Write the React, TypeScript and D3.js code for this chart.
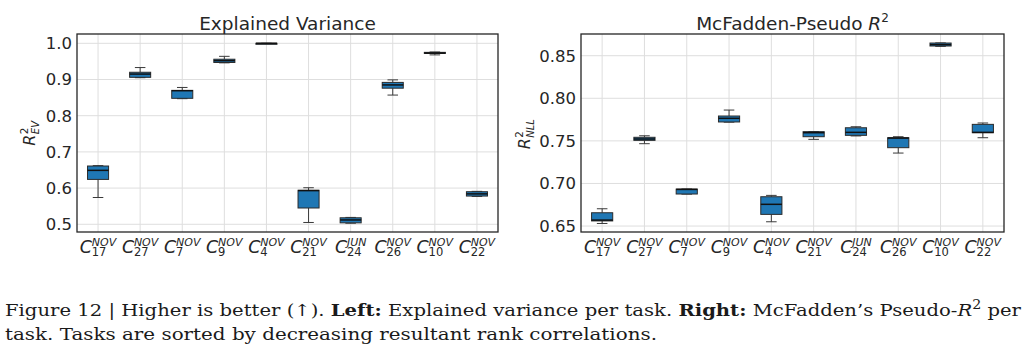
import * as d3 from "d3";

// task labels: C^{sup}_{sub}
const taskSub = ["17", "27", "7", "9", "4", "21", "24", "26", "10", "22"];
const taskSup = ["NOV", "NOV", "NOV", "NOV", "NOV", "NOV", "JUN", "NOV", "NOV", "NOV"];

// Explained variance (box stats per task)
const evLow = [0.574, 0.905, 0.847, 0.946, 0.9995, 0.505, 0.503, 0.857, 0.968, 0.577];
const evQ1 = [0.624, 0.906, 0.848, 0.947, 0.9995, 0.545, 0.504, 0.876, 0.972, 0.578];
const evMed = [0.649, 0.915, 0.869, 0.952, 1.0, 0.593, 0.512, 0.885, 0.973, 0.584];
const evQ3 = [0.661, 0.92, 0.87, 0.956, 1.0, 0.594, 0.518, 0.892, 0.975, 0.59];
const evHigh = [0.662, 0.933, 0.878, 0.964, 1.0, 0.601, 0.519, 0.899, 0.976, 0.591];
const evTicks = [0.5, 0.6, 0.7, 0.8, 0.9, 1.0];

// McFadden pseudo R^2
const nllLow = [0.653, 0.7467, 0.6875, 0.772, 0.655, 0.7518, 0.7558, 0.7357, 0.861, 0.7537];
const nllQ1 = [0.656, 0.7506, 0.6876, 0.7722, 0.6637, 0.7549, 0.7565, 0.742, 0.8614, 0.7596];
const nllMed = [0.657, 0.7522, 0.693, 0.7765, 0.6755, 0.7596, 0.76, 0.7533, 0.863, 0.76];
const nllQ3 = [0.6656, 0.7542, 0.6934, 0.7792, 0.6844, 0.7608, 0.7654, 0.7537, 0.8649, 0.7694];
const nllHigh = [0.6703, 0.756, 0.6935, 0.7862, 0.686, 0.761, 0.7666, 0.7549, 0.865, 0.771];
const nllTicks = [0.65, 0.7, 0.75, 0.8, 0.85];

const TXT = "#262626";
const FONT = "DejaVu Sans, sans-serif";

type PanelProps = {
  left: number;
  right: number;
  domain: [number, number];
  ticks: number[];
  fmt: string;
  low: number[];
  q1: number[];
  med: number[];
  q3: number[];
  high: number[];
  title: React.ReactNode;
  ySub: string;
  yLabelX: number;
};

function Panel(p: PanelProps) {
  const top = 34;
  const bottom = 232;
  const x = d3
    .scaleBand<string>()
    .domain(taskSub.map((_, i) => String(i)))
    .range([p.left, p.right])
    .padding(0);
  const y = d3.scaleLinear().domain(p.domain).range([bottom, top]);
  const f = d3.format(p.fmt);
  const bw = x.bandwidth() * 0.5;
  const cw = bw * 0.5;
  const midY = (top + bottom) / 2;
  const subW = p.ySub.length * 7.2;
  const yLabW = 11 + subW;

  return (
    <g>
      {/* grid */}
      {p.ticks.map((t) => (
        <line key={"h" + t} x1={p.left} x2={p.right} y1={y(t)} y2={y(t)} stroke="#dedede" strokeWidth={1} />
      ))}
      {taskSub.map((_, i) => {
        const cx = x(String(i))! + x.bandwidth() / 2;
        return <line key={"v" + i} x1={cx} x2={cx} y1={top} y2={bottom} stroke="#dedede" strokeWidth={1} />;
      })}

      {/* boxes */}
      {taskSub.map((_, i) => {
        const cx = x(String(i))! + x.bandwidth() / 2;
        return (
          <g key={"b" + i}>
            <line x1={cx} x2={cx} y1={y(p.low[i])} y2={y(p.q1[i])} stroke="#3a3a3a" strokeWidth={1} />
            <line x1={cx} x2={cx} y1={y(p.q3[i])} y2={y(p.high[i])} stroke="#3a3a3a" strokeWidth={1} />
            <line x1={cx - cw / 2} x2={cx + cw / 2} y1={y(p.low[i])} y2={y(p.low[i])} stroke="#3a3a3a" strokeWidth={1} />
            <line x1={cx - cw / 2} x2={cx + cw / 2} y1={y(p.high[i])} y2={y(p.high[i])} stroke="#3a3a3a" strokeWidth={1} />
            <rect
              x={cx - bw / 2}
              y={y(p.q3[i])}
              width={bw}
              height={Math.max(1, y(p.q1[i]) - y(p.q3[i]))}
              fill="#1f77b4"
              stroke="#2b2b2b"
              strokeWidth={1}
            />
            <line x1={cx - bw / 2} x2={cx + bw / 2} y1={y(p.med[i])} y2={y(p.med[i])} stroke="#111" strokeWidth={1.5} />
          </g>
        );
      })}

      {/* frame */}
      <rect x={p.left} y={top} width={p.right - p.left} height={bottom - top} fill="none" stroke="#262626" strokeWidth={1.3} />

      {/* y ticks */}
      {p.ticks.map((t) => (
        <text key={"t" + t} x={p.left - 5} y={y(t)} dy="0.36em" textAnchor="end" fontSize={16.5} fill={TXT} fontFamily={FONT}>
          {f(t)}
        </text>
      ))}

      {/* x tick labels */}
      {taskSub.map((s, i) => {
        const cx = x(String(i))! + x.bandwidth() / 2;
        const sup = taskSup[i];
        const wC = 12;
        const wS = Math.max(sup === "JUN" ? 19.5 : 24.5, s.length * 7);
        const x0 = cx - (wC + wS) / 2;
        return (
          <text key={"x" + i} x={x0} y={253} fontFamily={FONT} fill={TXT} fontStyle="italic" fontSize={17.5}>
            C
            <tspan x={x0 + wC} y={245.5} fontSize={11}>{sup}</tspan>
            <tspan x={x0 + wC} y={256} fontSize={11.5} fontStyle="normal">{s}</tspan>
          </text>
        );
      })}

      {/* y label */}
      <g transform={`translate(${p.yLabelX},${midY}) rotate(-90)`} fontFamily={FONT} fill={TXT}>
        <text x={-yLabW / 2} y={0} fontSize={16} fontStyle="italic">
          R
          <tspan x={-yLabW / 2 + 11.5} y={-7} fontSize={10.5} fontStyle="normal">2</tspan>
          <tspan x={-yLabW / 2 + 11.5} y={3.5} fontSize={10}>{p.ySub}</tspan>
        </text>
      </g>

      {/* title */}
      <text x={(p.left + p.right) / 2} y={30} textAnchor="middle" fontSize={18.5} fill={TXT} fontFamily={FONT}>
        {p.title}
      </text>
    </g>
  );
}

export default function App() {
  return (
    <div style={{ position: "absolute", left: 0, top: 0 }}>
      <svg width={1024} height={362} style={{ display: "block", background: "#fff" }}>
        <Panel
          left={77}
          right={498}
          domain={[0.4787, 1.0257]}
          ticks={evTicks}
          fmt=".1f"
          low={evLow}
          q1={evQ1}
          med={evMed}
          q3={evQ3}
          high={evHigh}
          title="Explained Variance"
          ySub="EV"
          yLabelX={35}
        />
        <Panel
          left={581}
          right={1004}
          domain={[0.643, 0.8755]}
          ticks={nllTicks}
          fmt=".2f"
          low={nllLow}
          q1={nllQ1}
          med={nllMed}
          q3={nllQ3}
          high={nllHigh}
          title={
            <>
              McFadden-Pseudo <tspan fontStyle="italic">R</tspan>
              <tspan fontSize={12} dy={-8}>2</tspan>
            </>
          }
          ySub="NLL"
          yLabelX={530}
        />
        <g fontFamily="DejaVu Serif, serif" fontSize={16.5} fill="#1a1a1a">
          <text x={5} y={316} textLength={1016} lengthAdjust="spacingAndGlyphs">
            Figure 12 | Higher is better (↑). <tspan fontWeight="bold">Left:</tspan> Explained variance per task.{" "}
            <tspan fontWeight="bold">Right:</tspan> McFadden’s Pseudo-<tspan fontStyle="italic">R</tspan>
            <tspan fontSize={12} dy={-7}>2</tspan>
            <tspan dy={7}> per</tspan>
          </text>
          <text x={5} y={340} textLength={652} lengthAdjust="spacingAndGlyphs">
            task. Tasks are sorted by decreasing resultant rank correlations.
          </text>
        </g>
      </svg>
    </div>
  );
}
